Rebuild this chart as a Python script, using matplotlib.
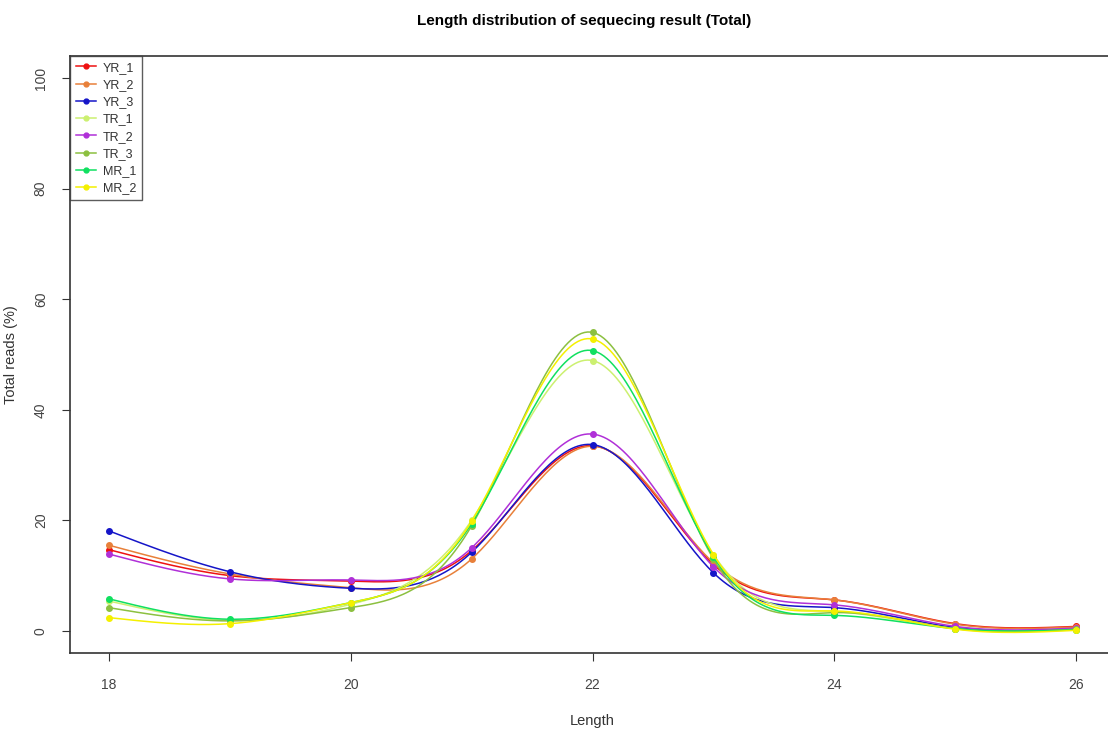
import numpy as np
import matplotlib
matplotlib.use("Agg")
import matplotlib.pyplot as plt

plt.rcParams['font.family'] = ['Liberation Sans', 'DejaVu Sans']

lengths = [18, 19, 20, 21, 22, 23, 24, 25, 26]
names = ['YR_1', 'YR_2', 'YR_3', 'TR_1', 'TR_2', 'TR_3', 'MR_1', 'MR_2']
colors = ['#ee1111', '#e8803a', '#1515c8', '#ccf070', '#b030d8', '#8cc040', '#10e060', '#f4f000']

yr_1 = [14.7, 10.0, 9.0, 14.5, 33.5, 12.0, 5.6, 1.3, 0.8]
yr_2 = [15.5, 10.3, 7.8, 13.0, 33.4, 12.3, 5.6, 1.2, 0.7]
yr_3 = [18.1, 10.7, 7.7, 14.2, 33.7, 10.5, 4.2, 0.6, 0.4]
tr_1 = [5.4, 1.9, 4.8, 20.0, 48.9, 13.8, 3.5, 0.4, 0.2]
tr_2 = [13.9, 9.4, 9.2, 15.0, 35.6, 11.6, 4.7, 0.8, 0.5]
tr_3 = [4.2, 1.8, 4.2, 19.0, 54.0, 13.0, 3.3, 0.4, 0.3]
mr_1 = [5.8, 2.1, 5.1, 19.4, 50.7, 13.4, 2.8, 0.4, 0.2]
mr_2 = [2.4, 1.3, 5.1, 19.8, 52.8, 13.8, 3.6, 0.3, 0.1]
series = [yr_1, yr_2, yr_3, tr_1, tr_2, tr_3, mr_1, mr_2]


def natural_spline(x, y, n=300):
    # plain natural cubic spline, like R's spline() smoothing of the lines
    x = np.asarray(x, float)
    y = np.asarray(y, float)
    k = len(x)
    h = np.diff(x)
    A = np.zeros((k, k))
    r = np.zeros(k)
    A[0, 0] = A[-1, -1] = 1
    for i in range(1, k - 1):
        A[i, i - 1] = h[i - 1]
        A[i, i] = 2 * (h[i - 1] + h[i])
        A[i, i + 1] = h[i]
        r[i] = 6 * ((y[i + 1] - y[i]) / h[i] - (y[i] - y[i - 1]) / h[i - 1])
    m = np.linalg.solve(A, r)
    xs = np.linspace(x[0], x[-1], n)
    idx = np.clip(np.searchsorted(x, xs) - 1, 0, k - 2)
    t = xs - x[idx]
    hi = h[idx]
    a = (m[idx + 1] - m[idx]) / (6 * hi)
    b = m[idx] / 2
    c = (y[idx + 1] - y[idx]) / hi - hi * (2 * m[idx] + m[idx + 1]) / 6
    ys = y[idx] + c * t + b * t ** 2 + a * t ** 3
    return xs, ys


fig = plt.figure(figsize=(11.08, 7.33), dpi=100)
ax = fig.add_axes([0.0632, 0.1092, 0.9431, 0.8144])

for name, col, vals in zip(names, colors, series):
    xs, ys = natural_spline(lengths, vals)
    ax.plot(xs, ys, color=col, lw=1.1)
    ax.plot(lengths, vals, 'o', color=col, ms=4, mec=col)
    ax.plot([], [], '-o', color=col, lw=1.1, ms=3.5, label=name)

ax.set_xlim(17.68, 26.32)
ax.set_ylim(-4, 104)
ax.set_xticks([18, 20, 22, 24, 26])
ax.set_yticks([0, 20, 40, 60, 80, 100])
ax.tick_params(axis='both', direction='out', length=6, colors='#333333',
               labelsize=10, labelcolor='#444444')
ax.tick_params(axis='x', pad=12)
ax.tick_params(axis='y', pad=10)
for lab in ax.get_yticklabels():
    lab.set_rotation(90)
    lab.set_va('center')
for s in ax.spines.values():
    s.set_color('#333333')
    s.set_linewidth(1.2)

ax.set_xlabel('Length', fontsize=10.5, color='#333333', labelpad=16)
ax.set_ylabel('Total reads (%)', fontsize=10.5, color='#333333')
ax.yaxis.set_label_coords(-0.05, 0.5)
fig.text(0.5275, 0.972, 'Length distribution of sequecing result (Total)',
         ha='center', va='center', fontsize=11, fontweight='bold')

leg = ax.legend(loc='upper left', bbox_to_anchor=(0, 1), fontsize=9,
                frameon=True, fancybox=False, borderaxespad=0,
                handlelength=1.6, handletextpad=0.6, labelspacing=0.42,
                borderpad=0.45)
leg.get_frame().set_edgecolor('#333333')
leg.get_frame().set_linewidth(1.0)
for t in leg.get_texts():
    t.set_color('#333333')

fig.savefig('out.png', dpi=100)
